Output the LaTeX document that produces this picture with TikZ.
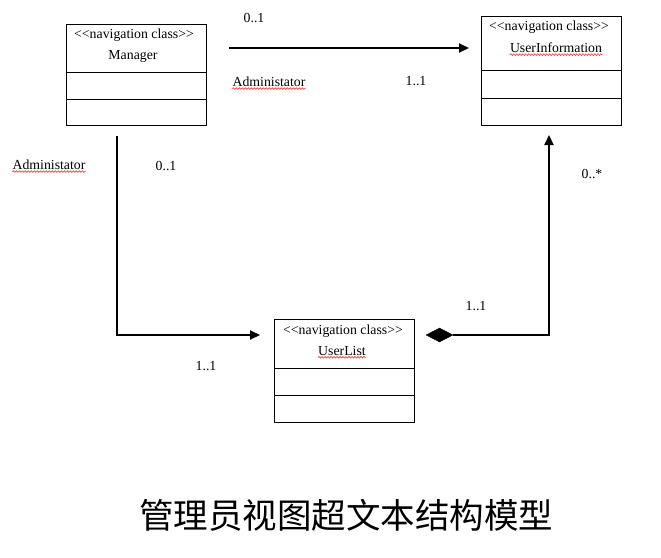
\documentclass[tikz,border=0pt]{standalone}
\usepackage{fontspec}
\setmainfont{Liberation Serif}
\newfontfamily\cjk{Noto Sans CJK SC}
\usetikzlibrary{arrows.meta,calc,decorations.pathmorphing,shapes.geometric}
\newcommand{\stereo}{\mbox{<}\mbox{<}navigation class\mbox{>}\mbox{>}}
\begin{document}
\begin{tikzpicture}[x=1pt,y=-1pt,
  classbox/.style={draw,line width=1pt,minimum width=140pt,inner sep=0pt},
  divider/.style={line width=1pt},
  assoc/.style={line width=2pt,-{Triangle[length=10pt,width=9pt]}},
  txt/.style={font=\fontsize{13.8}{15}\selectfont,inner sep=0pt},
  spell/.style={red,line width=0.5pt,decorate,decoration={snake,segment length=3pt,amplitude=0.8pt}}]
\useasboundingbox (0,0) rectangle (661,557);

% class boxes
\node[classbox,minimum height=101pt] (mgr) at (136,74.5) {};
\node[classbox,minimum height=109pt] (info) at (551,70.5) {};
\node[classbox,minimum height=103pt] (list) at (344.5,370.5) {};

% compartments
\draw[divider] ($(mgr.north west)+(0,49)$) -- ($(mgr.north east)+(0,49)$);
\draw[divider] ($(mgr.north west)+(0,76)$) -- ($(mgr.north east)+(0,76)$);
\draw[divider] ($(info.north west)+(0,55)$) -- ($(info.north east)+(0,55)$);
\draw[divider] ($(info.north west)+(0,83)$) -- ($(info.north east)+(0,83)$);
\draw[divider] ($(list.north west)+(0,50)$) -- ($(list.north east)+(0,50)$);
\draw[divider] ($(list.north west)+(0,77)$) -- ($(list.north east)+(0,77)$);

% class headings
\node[txt] (mgrst) at (134,35) {\stereo};
\node[txt] (mgrname) at (133,56) {Manager};
\node[txt] (infost) at (549,27) {\stereo};
\node[txt] (infoname) at (556,48) {UserInformation};
\node[txt] (listst) at (343,331) {\stereo};
\node[txt] (listname) at (342,351) {UserList};

% connectors
\coordinate (a1) at (229,48);
\coordinate (a2) at (469,48);
\draw[assoc] (a1) -- (a2);

\coordinate (b1) at (117,136);
\coordinate (b2) at (117,335);
\coordinate (b3) at (260,335);
\draw[assoc] (b1) -- (b2) -- (b3);

\node[diamond,draw,fill=black,aspect=2,inner sep=0pt,minimum width=27pt,minimum height=14pt] (dia) at (439.5,335) {};
\coordinate (c2) at (549,335);
\coordinate (c3) at (549,135);
\draw[assoc] (dia.east) -- (c2) -- (c3);

% multiplicities and role names
\node[txt] (m1) at (254,18) {0..1};
\node[txt] (r1) at (269,82) {Administator};
\node[txt] (m2) at (416,81) {1..1};
\node[txt] (r2) at (49,165) {Administator};
\node[txt] (m3) at (166,166) {0..1};
\node[txt] (m4) at (592,174) {0..*};
\node[txt] (m5) at (476,306) {1..1};
\node[txt] (m6) at (206,366) {1..1};

% spelling marks
\draw[spell] ($(r1.south west)+(0,1.5)$) -- ($(r1.south east)+(0,1.5)$);
\draw[spell] ($(r2.south west)+(0,1.5)$) -- ($(r2.south east)+(0,1.5)$);
\draw[spell] ($(infoname.south west)+(0,1.5)$) -- ($(infoname.south east)+(0,1.5)$);
\draw[spell] ($(listname.south west)+(0,1.5)$) -- ($(listname.south east)+(0,1.5)$);

% caption
\node[inner sep=0pt,font=\cjk\fontsize{34.5}{38}\selectfont] (cap) at (346,515) {管理员视图超文本结构模型};
\end{tikzpicture}
\end{document}
